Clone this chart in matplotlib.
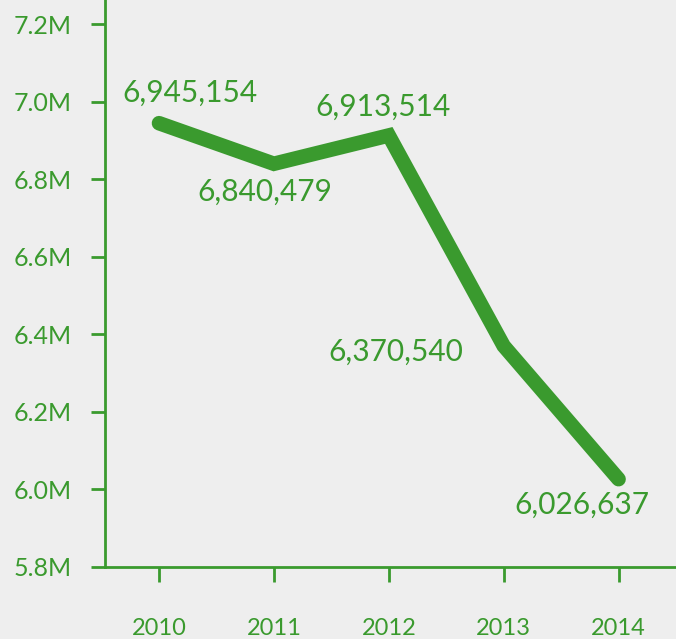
import matplotlib.pyplot as plt

years = ['2010', '2011', '2012', '2013', '2014']
population = [6945154, 6840479, 6913514, 6370540, 6026637]
yticks = [5.8e6, 6.0e6, 6.2e6, 6.4e6, 6.6e6, 6.8e6, 7.0e6, 7.2e6]
ytick_labels = ['5.8M', '6.0M', '6.2M', '6.4M', '6.6M', '6.8M', '7.0M', '7.2M']
# label offsets in pixels (dx, dy) relative to each point
label_offsets = [(31, 30), (-9, -28), (-6, 29), (-108, -6), (-37, -26)]

green = '#3a9a2e'
bg = '#eeeeee'

plt.rcParams['font.family'] = ['Lato', 'DejaVu Sans']

fig = plt.figure(figsize=(6.76, 6.39), dpi=100)
fig.patch.set_facecolor(bg)
ax = fig.add_axes([105 / 676, 72 / 639, 1 - 105 / 676, 1 - 72 / 639])
ax.set_facecolor(bg)

x = list(range(len(years)))
ax.plot(x, population, color=green, linewidth=10.5, solid_capstyle='round',
        solid_joinstyle='miter')

for xi, val, off in zip(x, population, label_offsets):
    ax.annotate(f'{val:,}', (xi, val), xytext=off, textcoords='offset pixels',
                ha='center', va='center', fontsize=21.5, color=green)

ax.set_xlim(-0.47, 4.5)
ax.set_ylim(5.8e6, 7.263e6)
ax.set_xticks(x)
ax.set_xticklabels(years)
ax.set_yticks(yticks)
ax.set_yticklabels(ytick_labels)

for side in ['top', 'right']:
    ax.spines[side].set_visible(False)
for side in ['left', 'bottom']:
    ax.spines[side].set_color(green)
    ax.spines[side].set_linewidth(2)

ax.tick_params(axis='y', colors=green, length=10, width=2, pad=14, labelsize=18)
ax.tick_params(axis='x', colors=green, length=11, width=2, pad=26, labelsize=17)

fig.savefig('out.png', dpi=100, facecolor=bg)
